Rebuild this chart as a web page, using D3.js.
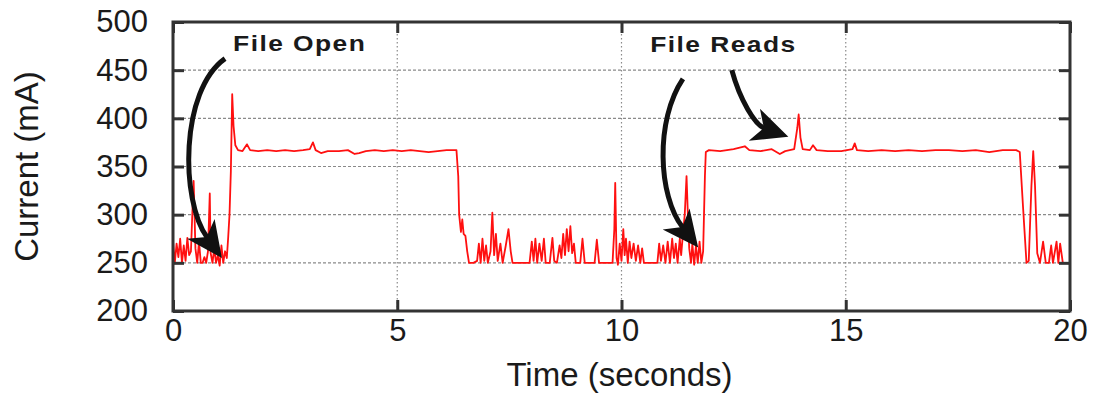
<!DOCTYPE html>
<html>
<head>
<meta charset="utf-8">
<script src="https://cdn.jsdelivr.net/npm/d3@7"></script>
<style>
  body { margin: 0; background: #fff; }
  svg { display: block; font-family: "Liberation Sans", Arial, Helvetica, sans-serif; }
</style>
</head>
<body>
<svg id="chart" width="1096" height="394"></svg>
<script>
// time (s) and current (mA)
const times = [
  0, 0.04, 0.08, 0.12, 0.16, 0.2, 0.24, 0.28, 0.32, 0.36, 0.4, 0.43, 0.46, 0.5, 0.54, 0.58, 0.62, 0.66, 0.7, 0.74,
  0.78, 0.82, 0.84, 0.88, 0.92, 0.96, 1.0, 1.04, 1.08, 1.12, 1.16, 1.2, 1.23, 1.26, 1.29, 1.32, 1.35, 1.39, 1.45,
  1.55, 1.65, 1.72, 1.9, 2.1, 2.3, 2.5, 2.7, 2.9, 3.05, 3.12, 3.18, 3.3, 3.45, 3.7, 3.9, 4.05, 4.15, 4.3, 4.5, 4.7,
  4.9, 5.1, 5.3, 5.5, 5.7, 5.9, 6.1, 6.32, 6.36, 6.38, 6.42, 6.45, 6.48, 6.52, 6.56, 6.6, 6.7, 6.78,
  6.82, 6.86, 6.9, 6.94, 6.98, 7.02, 7.08, 7.12, 7.16, 7.2, 7.24, 7.3, 7.35, 7.42, 7.48, 7.53, 7.57, 7.95,
  8.0, 8.04, 8.08, 8.12, 8.17, 8.22, 8.27, 8.31, 8.4, 8.46, 8.5, 8.56, 8.62, 8.66, 8.7, 8.74, 8.78, 8.82, 8.86, 8.9,
  8.94, 8.98, 9.08, 9.13, 9.18, 9.4, 9.45, 9.5, 9.8, 9.84, 9.86, 9.89, 9.92, 9.96, 10.0, 10.04, 10.07, 10.1, 10.14,
  10.18, 10.22, 10.27, 10.32, 10.37, 10.42, 10.46, 10.5, 10.8, 10.84, 10.88, 10.93, 10.98, 11.03, 11.08, 11.13,
  11.17, 11.21, 11.25, 11.3, 11.33, 11.37, 11.41, 11.45, 11.48, 11.51, 11.55, 11.58, 11.62, 11.66, 11.7, 11.74,
  11.78, 11.82, 11.86, 11.88, 11.95, 12.2, 12.5, 12.75, 12.85, 13.1, 13.35, 13.53, 13.65, 13.85, 13.92, 13.95,
  13.99, 14.04, 14.2, 14.27, 14.35, 14.6, 14.9, 15.15, 15.2, 15.25, 15.5, 15.8, 16.1, 16.4, 16.7, 17.0, 17.3, 17.6,
  17.9, 18.2, 18.5, 18.8, 18.88, 18.95, 19.03, 19.08, 19.14, 19.18, 19.22, 19.27, 19.33, 19.4, 19.46, 19.53, 19.58,
  19.62, 19.7, 19.74, 19.78, 19.84, 20
];
const current = [
  272, 250, 270, 256, 275, 250, 268, 252, 276, 258, 262, 300, 335, 265, 250, 272, 250, 250, 256, 250,
  262, 322, 260, 250, 265, 250, 258, 247, 268, 250, 262, 255, 276, 300, 345, 425, 392, 372, 367,
  366, 373, 367, 366, 367, 366, 367, 366, 367, 368, 375, 367, 364, 366, 366, 367, 363, 364, 366, 367, 366,
  367, 366, 367, 366, 365, 366, 367, 367, 340, 300, 282, 295, 280, 278, 262, 250, 250, 252,
  270, 250, 275, 252, 268, 250, 262, 302, 258, 280, 252, 270, 250, 268, 285, 262, 250, 250,
  272, 252, 275, 250, 270, 252, 275, 250, 250, 276, 252, 250, 268, 255, 280, 258, 285, 262, 288, 260,
  270, 250, 250, 275, 250, 250, 274, 250, 250, 285, 333, 255, 248, 270, 252, 285, 258, 275, 250,
  272, 255, 270, 252, 268, 250, 265, 250, 250, 270, 252, 268, 250, 272, 250, 275,
  255, 270, 250, 275, 258, 280, 300, 340, 300, 265, 250, 270, 248, 268, 250, 272,
  250, 262, 340, 365, 367, 366, 368, 371, 367, 366, 368, 363, 366, 368, 390, 404,
  380, 368, 367, 372, 367, 366, 366, 368, 374, 367, 366, 367, 366, 367, 366, 367, 367, 366,
  367, 365, 367, 367, 365, 310, 250, 252, 330, 366, 330, 260, 250, 272, 250, 250, 268,
  250, 272, 250, 270, 250, 250
];
const xTicks = [0, 5, 10, 15, 20];
const yTicks = [200, 250, 300, 350, 400, 450, 500];
const gridY = [250, 300, 350, 400, 450];
const gridX = [5, 10, 15];

// annotation text and arrows, in data units
const labels = [
  { text: "File Open", t: 1.34, mA: 470 },
  { text: "File Reads", t: 10.64, mA: 469 }
];
const arrows = [
  [[1.16, 462], [0.16, 429], [0.16, 315], [1.09, 255]],
  [[11.37, 441], [10.75, 398], [10.81, 320], [11.71, 266]],
  [[12.46, 450], [12.64, 419], [12.98, 393], [13.72, 381]]
];

const svg = d3.select("#chart");
const margin = { left: 173, top: 22, right: 26, bottom: 83 };
const width = 1096 - margin.left - margin.right;
const height = 394 - margin.top - margin.bottom;

const x = d3.scaleLinear().domain([0, 20]).range([0, width]);
const y = d3.scaleLinear().domain([200, 500]).range([height, 0]);

const g = svg.append("g").attr("transform", `translate(${margin.left},${margin.top})`);

// grid
g.selectAll(".gy").data(gridY).enter().append("line")
  .attr("x1", 0).attr("x2", width)
  .attr("y1", d => y(d)).attr("y2", d => y(d))
  .attr("stroke", "#8a8a8a").attr("stroke-width", 1.2).attr("stroke-dasharray", "3,2");
g.selectAll(".gx").data(gridX).enter().append("line")
  .attr("x1", d => x(d)).attr("x2", d => x(d))
  .attr("y1", 0).attr("y2", height)
  .attr("stroke", "#8a8a8a").attr("stroke-width", 1.2).attr("stroke-dasharray", "1.5,2.5");

// trace
const pts = times.map((t, i) => [t, current[i]]);
g.append("path")
  .datum(pts)
  .attr("fill", "none")
  .attr("stroke", "#ff1010")
  .attr("stroke-width", 1.8)
  .attr("stroke-linejoin", "round")
  .attr("d", d3.line().x(d => x(d[0])).y(d => y(d[1])));

// axes
const tickStyle = sel => {
  sel.select(".domain").remove();
  sel.selectAll(".tick line").attr("stroke", "#333").attr("stroke-width", 3);
  sel.selectAll(".tick text").attr("fill", "#1a1a1a").style("font-size", "31px");
};
g.append("g").call(d3.axisLeft(y).tickValues(yTicks).tickSizeInner(-11).tickPadding(25)).call(tickStyle);
g.append("g").attr("transform", `translate(${width},0)`)
  .call(d3.axisRight(y).tickValues(yTicks).tickSizeInner(-11).tickFormat("")).call(tickStyle);
g.append("g").attr("transform", `translate(0,${height})`)
  .call(d3.axisBottom(x).tickValues(xTicks).tickSizeInner(-11).tickPadding(8)).call(tickStyle);
g.append("g")
  .call(d3.axisTop(x).tickValues(xTicks).tickSizeInner(-11).tickFormat("")).call(tickStyle);

// frame
g.append("rect").attr("width", width).attr("height", height)
  .attr("fill", "none").attr("stroke", "#333").attr("stroke-width", 3);

// axis titles
svg.append("text")
  .attr("x", margin.left + width / 2 - 2).attr("y", 386)
  .attr("text-anchor", "middle").attr("fill", "#1a1a1a")
  .style("font-size", "33px")
  .text("Time (seconds)");
svg.append("text")
  .attr("transform", `translate(38,${margin.top + height / 2}) rotate(-90)`)
  .attr("text-anchor", "middle").attr("fill", "#1a1a1a")
  .style("font-size", "33px")
  .text("Current (mA)");

// annotations (wide bold lettering)
g.selectAll(".lbl").data(labels).enter().append("text")
  .attr("transform", d => `translate(${x(d.t)},${y(d.mA)}) scale(1.2,1)`)
  .attr("fill", "#1a1a1a").style("font-size", "22px").style("font-weight", "bold")
  .style("letter-spacing", "1.2px")
  .text(d => d.text);

arrows.forEach(a => {
  const p = a.map(d => [x(d[0]), y(d[1])]);
  const tip = p[3];
  let dx = tip[0] - p[2][0], dy = tip[1] - p[2][1];
  const len = Math.hypot(dx, dy);
  dx /= len; dy /= len;
  const headLen = 36, headW = 17;
  const base = [tip[0] - dx * headLen * 0.7, tip[1] - dy * headLen * 0.7];
  const path = d3.path();
  path.moveTo(p[0][0], p[0][1]);
  path.bezierCurveTo(p[1][0], p[1][1], p[2][0], p[2][1], base[0], base[1]);
  g.append("path").attr("d", path.toString())
    .attr("fill", "none").attr("stroke", "#111").attr("stroke-width", 5);
  const back = [tip[0] - dx * headLen, tip[1] - dy * headLen];
  const nx = -dy, ny = dx;
  const head = d3.path();
  head.moveTo(tip[0], tip[1]);
  head.lineTo(back[0] + nx * headW, back[1] + ny * headW);
  head.lineTo(tip[0] - dx * headLen * 0.72, tip[1] - dy * headLen * 0.72);
  head.lineTo(back[0] - nx * headW, back[1] - ny * headW);
  head.closePath();
  g.append("path").attr("d", head.toString()).attr("fill", "#111");
});
</script>
</body>
</html>
